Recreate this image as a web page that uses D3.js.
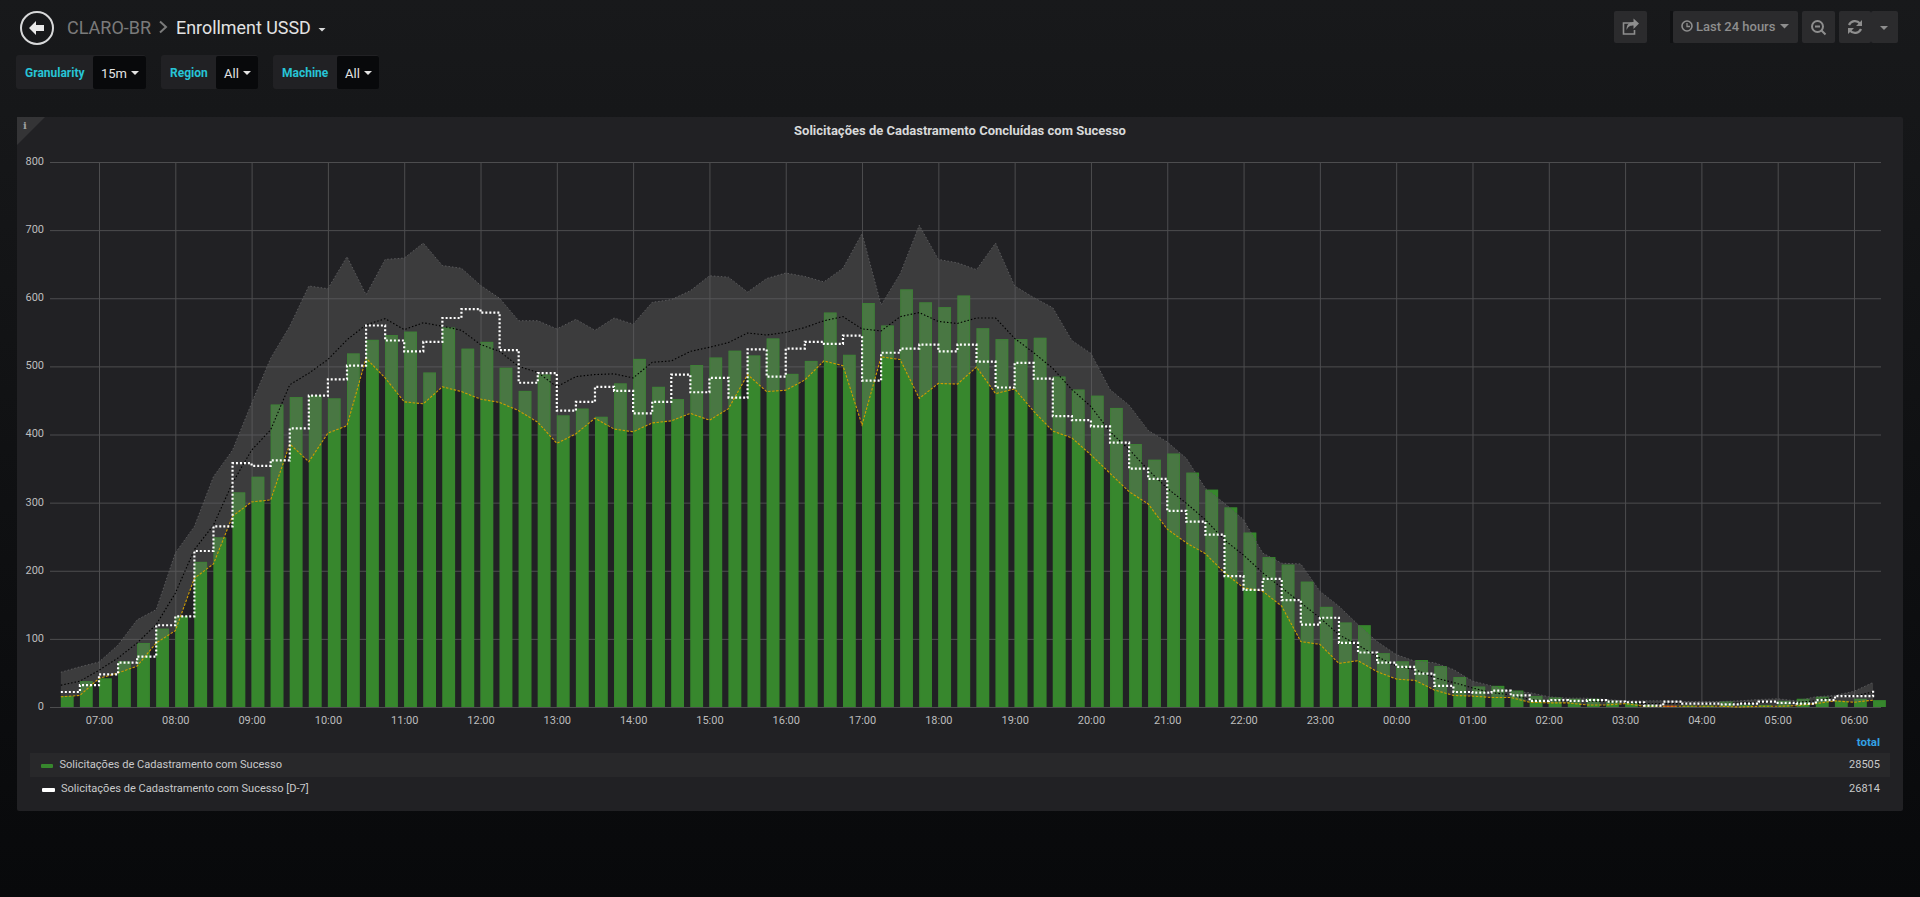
<!DOCTYPE html>
<html>
<head>
<meta charset="utf-8">
<title>Enrollment USSD</title>
<script src="https://cdn.jsdelivr.net/npm/d3@7"></script>
<style>
  html, body { margin: 0; padding: 0; height: 897px; overflow: hidden; }
  body { background: linear-gradient(#18191b, #08090b); }
  svg { display: block; font-family: Roboto, sans-serif; }
</style>
</head>
<body>
<div id="dash"></div>
<script>
// values, one per 15 minutes starting at 06:30
const barValues = [16,38,42,67,94,115,133,213,249,315,338,444,455,457,453,519,539,546,551,491,557,526,
  536,498,464,488,428,438,426,475,511,470,452,502,513,523,516,541,489,508,579,517,593,560,613,594,587,
  604,556,540,540,542,485,466,457,439,386,363,372,344,319,293,256,220,209,184,147,124,120,79,67,69,
  60,44,30,31,24,16,14,12,12,9,6,3,2,2,2,8,3,3,9,12,15,9,12,10];
const d7Values = [22,32,48,65,74,120,133,229,265,358,354,362,409,457,481,501,560,538,522,536,571,584,
  579,524,476,490,435,448,470,464,431,448,488,462,483,454,525,485,526,536,533,545,479,520,526,532,522,
  532,507,469,505,482,427,421,412,388,350,335,288,272,253,192,172,188,157,121,131,94,80,65,59,49,
  31,22,21,24,17,9,10,9,10,8,7,2,8,5,5,4,5,8,6,5,10,16,16,25];
const minValues = [15,17,42,50,60,94,112,189,210,280,301,304,386,360,402,413,512,483,448,445,470,463,
  452,447,435,418,387,401,424,408,404,417,420,431,421,438,488,463,465,480,508,501,414,514,510,453,475,
  474,499,460,467,434,405,395,370,343,316,298,261,241,225,197,175,170,148,96,92,64,68,52,41,39,
  25,17,16,14,14,7,6,6,3,3,5,1,1,1,1,1,0,1,1,2,5,9,7,10];
const medianValues = [32,38,54,72,94,121,167,231,267,329,377,407,473,490,510,539,561,570,554,564,559,553,
  532,522,500,491,470,485,488,489,483,506,508,522,528,535,549,546,550,557,567,573,555,552,573,579,566,
  563,571,571,541,520,497,466,441,404,378,348,321,299,275,245,223,197,175,153,131,106,91,74,60,55,
  43,36,28,21,18,11,9,9,8,8,6,5,5,5,5,5,6,7,7,7,9,15,16,22];
const maxValues = [51,59,66,91,128,143,226,265,338,377,446,512,559,618,614,661,605,657,659,681,648,644,
  619,600,567,567,555,569,553,571,562,594,598,611,633,631,609,629,637,632,624,644,695,590,636,707,657,652,642,681,
  618,601,586,538,519,466,443,406,389,365,321,299,275,226,211,210,170,148,121,96,77,67,
  65,55,38,31,23,21,15,13,13,11,9,9,9,8,8,8,9,11,12,9,15,17,23,36];

const yTicks = [0,100,200,300,400,500,600,700,800];
const seriesNames = ["Solicitações de Cadastramento com Sucesso", "Solicitações de Cadastramento com Sucesso [D-7]"];
const seriesTotals = [28505, 26814];
const lowBars = [84]; // the one bar that shows red

const width = 1920, height = 897;
const start = new Date(2019, 2, 10, 6, 30);
const times = barValues.map((d, i) => d3.timeMinute.offset(start, i * 15));
const hourTicks = d3.timeHour.range(new Date(2019, 2, 10, 7), new Date(2019, 2, 11, 6, 30));

const svg = d3.select("#dash").append("svg").attr("width", width).attr("height", height);

// scales
const x = d3.scaleTime()
  .domain([new Date(2019, 2, 10, 7), new Date(2019, 2, 11, 6)])
  .range([99, 1854]);
const y = d3.scaleLinear().domain([0, 800]).range([707, 162]);

// ---- panel
svg.append("rect").attr("x", 17).attr("y", 117).attr("width", 1886).attr("height", 694).attr("rx", 2).attr("fill", "#212124");
svg.append("path").attr("d", "M17 117H45L17 145Z").attr("fill", "#343436");
svg.append("text").attr("x", 25).attr("y", 129).attr("text-anchor", "middle").attr("font-size", 10).attr("font-weight", 700)
  .attr("font-family", "DejaVu Serif").attr("fill", "#a0a0a0").text("i");
svg.append("text").attr("x", 960).attr("y", 135).attr("text-anchor", "middle").attr("font-size", 13).attr("font-weight", 700)
  .attr("fill", "#d8d9da").text("Solicitações de Cadastramento Concluídas com Sucesso");

// ---- grid + axes
const gridColor = "#4d4d4f";
const yAxis = svg.append("g").attr("transform", "translate(50,0)")
  .call(d3.axisLeft(y).tickValues(yTicks).tickSize(-1831).tickPadding(6));
yAxis.select(".domain").remove();
yAxis.selectAll("line").attr("stroke", gridColor);
yAxis.selectAll("text").attr("fill", "#bdbdbd").attr("font-size", 11).attr("font-family", "Roboto").attr("dy", ".22em");

const xAxis = svg.append("g").attr("transform", "translate(0,707)")
  .call(d3.axisBottom(x).tickValues(hourTicks).tickFormat(d3.timeFormat("%H:%M")).tickSize(-545).tickPadding(9));
xAxis.select(".domain").remove();
xAxis.selectAll("line").attr("stroke", gridColor);
xAxis.selectAll("text").attr("fill", "#bdbdbd").attr("font-size", 11).attr("font-family", "Roboto");

// ---- bars
const barW = x(d3.timeMinute.offset(times[0], 10)) - x(times[0]);
svg.append("g").selectAll("rect").data(barValues).join("rect")
  .attr("x", (d, i) => x(times[i]))
  .attr("y", d => y(d))
  .attr("width", barW)
  .attr("height", d => y(0) - y(d))
  .attr("fill", (d, i) => lowBars.includes(i) ? "#d42a20" : "#37872d");

// ---- band between min and max, laid over the bars
const band = d3.area()
  .x((d, i) => x(times[i]))
  .y0((d, i) => y(minValues[i]))
  .y1(d => y(d));
svg.append("path").datum(maxValues).attr("d", band).attr("fill", "rgba(97,97,97,0.42)");

// bars keep a faint green edge where the band covers them
svg.append("g").selectAll("rect").data(barValues).join("rect")
  .attr("x", (d, i) => x(times[i]) + 0.5)
  .attr("y", d => y(d) + 0.5)
  .attr("width", barW - 1)
  .attr("height", d => Math.max(0, y(0) - y(d) - 1))
  .attr("fill", "none")
  .attr("stroke", (d, i) => lowBars.includes(i) ? "none" : "rgba(55,135,45,0.55)");

const line = d3.line().x((d, i) => x(times[i])).y(d => y(d));
const stepLine = d3.line().curve(d3.curveStepAfter).x((d, i) => x(times[i])).y(d => y(d));

svg.append("path").datum(maxValues).attr("d", line).attr("fill", "none")
  .attr("stroke", "#5a5a5c").attr("stroke-width", 1).attr("stroke-dasharray", "1.5,2");
svg.append("path").datum(medianValues).attr("d", line).attr("fill", "none")
  .attr("stroke", "#000000").attr("stroke-width", 1.1).attr("stroke-dasharray", "1.5,2");
svg.append("path").datum(minValues).attr("d", line).attr("fill", "none")
  .attr("stroke", "#cf9d00").attr("stroke-width", 1.1).attr("stroke-dasharray", "2.5,1.5");
svg.append("path").datum(d7Values).attr("d", stepLine).attr("fill", "none")
  .attr("stroke", "#ffffff").attr("stroke-width", 2.2).attr("stroke-dasharray", "2,2");

// ---- legend
svg.append("rect").attr("x", 30).attr("y", 753).attr("width", 1860).attr("height", 24).attr("fill", "#28282a");
svg.append("text").attr("x", 1880).attr("y", 746).attr("text-anchor", "end").attr("font-size", 11.5).attr("font-weight", 700)
  .attr("fill", "#33a2e5").text("total");
svg.append("rect").attr("x", 41).attr("y", 764).attr("width", 12).attr("height", 4).attr("rx", 1).attr("fill", "#37872d");
svg.append("rect").attr("x", 42).attr("y", 788).attr("width", 13).attr("height", 4).attr("rx", 1).attr("fill", "#ffffff");
seriesNames.forEach((name, i) => {
  svg.append("text").attr("x", i ? 61 : 59.5).attr("y", 768 + i * 24).attr("font-size", 11.05).attr("fill", "#c8c9ca").text(name);
  svg.append("text").attr("x", 1880).attr("y", 768 + i * 24).attr("text-anchor", "end").attr("font-size", 11).attr("fill", "#c8c9ca").text(seriesTotals[i]);
});

// ---- top bar
const back = svg.append("g");
back.append("circle").attr("cx", 37).attr("cy", 28).attr("r", 16).attr("fill", "none").attr("stroke", "#d8d9da").attr("stroke-width", 2);
back.append("path").attr("d", "M29 28L36 21V25H44V31H36V35Z").attr("fill", "#e8e8e8");

svg.append("text").attr("x", 67).attr("y", 34).attr("font-size", 18).attr("fill", "#7b7b7b").text("CLARO-BR");
svg.append("path").attr("d", "M160 21.5L166 27L160 32.5").attr("fill", "none").attr("stroke", "#7b7b7b").attr("stroke-width", 2);
svg.append("text").attr("x", 176).attr("y", 34).attr("font-size", 17.9).attr("fill", "#e3e3e3").text("Enrollment USSD");
svg.append("path").attr("d", "M318.5 28H325.5L322 31.5Z").attr("fill", "#d8d9da");

// template variables
const varBoxes = [
  { label: "Granularity", value: "15m", x0: 16, x1: 93, x2: 146 },
  { label: "Region", value: "All", x0: 161, x1: 216, x2: 258 },
  { label: "Machine", value: "All", x0: 273, x1: 337, x2: 379 }
];
varBoxes.forEach(b => {
  svg.append("rect").attr("x", b.x0).attr("y", 55).attr("width", b.x2 - b.x0).attr("height", 34).attr("rx", 3).attr("fill", "#212124");
  svg.append("rect").attr("x", b.x1).attr("y", 56).attr("width", b.x2 - b.x1).attr("height", 33).attr("rx", 2).attr("fill", "#08090b");
  svg.append("text").attr("x", b.x0 + 9).attr("y", 77).attr("font-size", 12).attr("font-weight", 700).attr("fill", "#27c4d6").text(b.label);
  svg.append("text").attr("x", b.x1 + 8).attr("y", 78).attr("font-size", 13).attr("fill", "#e3e3e3").text(b.value);
  svg.append("path").attr("d", `M${b.x2 - 15} 71H${b.x2 - 7}L${b.x2 - 11} 75Z`).attr("fill", "#e3e3e3");
});

// right hand buttons
const btn = (x0, w) => svg.append("rect").attr("x", x0).attr("y", 11).attr("width", w).attr("height", 32).attr("rx", 2).attr("fill", "#2b2b2d");
btn(1614, 33); btn(1673, 125); btn(1802, 33); btn(1839, 32); btn(1871, 27);
svg.append("rect").attr("x", 1670).attr("y", 11).attr("width", 3).attr("height", 32).attr("fill", "#101113");

const iconGrey = "#8e8e8e";
// share
svg.append("path").attr("d", "M1631.5 23H1623.5V34H1634.5V30").attr("fill", "none").attr("stroke", iconGrey).attr("stroke-width", 1.6);
svg.append("path").attr("d", "M1626.5 30C1626.5 23 1630.5 22 1633.5 22V18.5L1639 23.5L1633.5 29V25.5C1630.5 25.5 1628.5 26 1626.5 30Z").attr("fill", iconGrey);
// clock
svg.append("circle").attr("cx", 1687).attr("cy", 26).attr("r", 5).attr("fill", "none").attr("stroke", iconGrey).attr("stroke-width", 1.6);
svg.append("path").attr("d", "M1687 23V26.5H1690").attr("fill", "none").attr("stroke", iconGrey).attr("stroke-width", 1.3);
svg.append("text").attr("x", 1696).attr("y", 31).attr("font-size", 13).attr("font-weight", 500).attr("fill", iconGrey).text("Last 24 hours");
svg.append("path").attr("d", "M1780 24H1789L1784.5 28.5Z").attr("fill", iconGrey);
// zoom out
svg.append("circle").attr("cx", 1817.5).attr("cy", 26.5).attr("r", 5.5).attr("fill", "none").attr("stroke", iconGrey).attr("stroke-width", 2);
svg.append("path").attr("d", "M1815 26.5H1820M1821.5 30.5L1825.5 34.5").attr("fill", "none").attr("stroke", iconGrey).attr("stroke-width", 2);
// refresh
svg.append("path").attr("d", "M1849 25A6.5 6.5 0 0 1 1860 23.5M1861 29A6.5 6.5 0 0 1 1850 30.5").attr("fill", "none").attr("stroke", iconGrey).attr("stroke-width", 2.2);
svg.append("path").attr("d", "M1862 20V26H1856ZM1848 34V28H1854Z").attr("fill", iconGrey);
svg.append("path").attr("d", "M1880 26H1888L1884 30Z").attr("fill", iconGrey);
</script>
</body>
</html>
